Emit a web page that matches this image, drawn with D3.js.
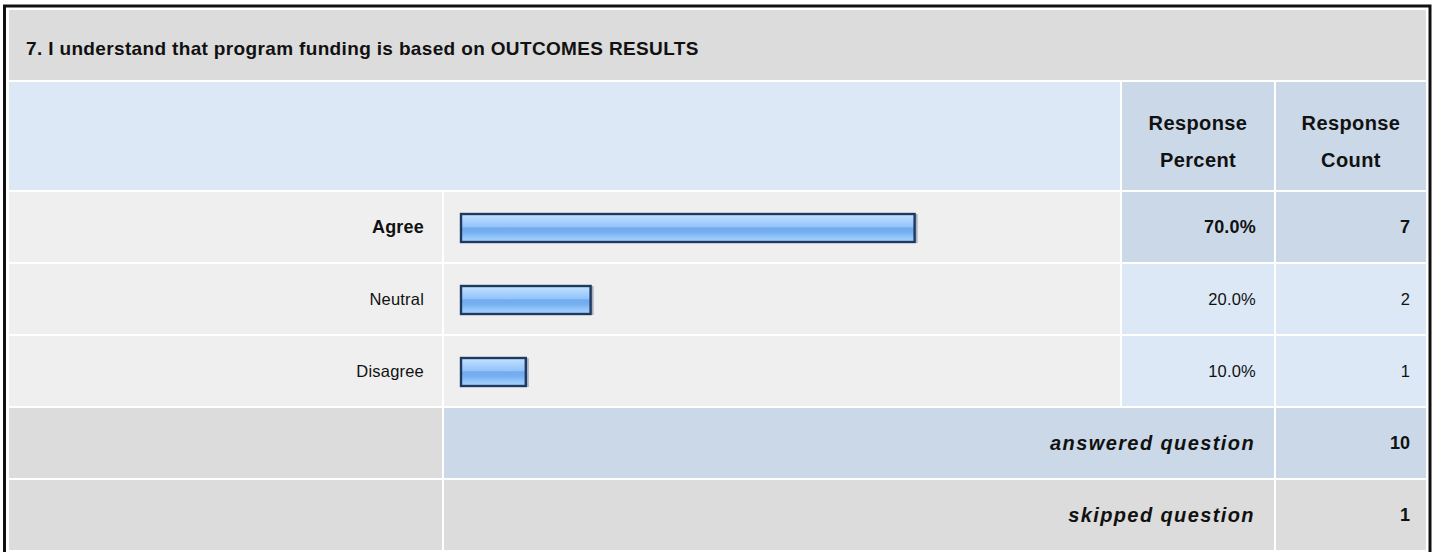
<!DOCTYPE html>
<html>
<head>
<meta charset="utf-8">
<script src="https://cdn.jsdelivr.net/npm/d3@7"></script>
<style>
  body { margin: 0; background: #fff; }
  svg { display: block; font-family: "Liberation Sans", Arial, sans-serif; }
</style>
</head>
<body>
<script>
// question data
var title = '7. I understand that program funding is based on OUTCOMES RESULTS';
var answers = ['Agree', 'Neutral', 'Disagree'];
var percents = [0.70, 0.20, 0.10];
var counts = [7, 2, 1];
var headerLines = [['Response', 'Percent'], ['Response', 'Count']];
var summaryLabels = ['answered question', 'skipped question'];
var summaryValues = [10, 1];

var W = 1437, H = 552;

var svg = d3.select('body').append('svg')
    .attr('width', W)
    .attr('height', H);

var defs = svg.append('defs');
var grad = defs.append('linearGradient')
    .attr('id', 'barFill')
    .attr('x1', 0).attr('y1', 0).attr('x2', 0).attr('y2', 1);
[['0%', '#c4e3ff'], ['22%', '#abd4fe'], ['45%', '#93c4f9'], ['50%', '#70a9ee'],
 ['66%', '#78b1f1'], ['84%', '#95c7fa'], ['100%', '#a8d2fc']].forEach(function (s) {
  grad.append('stop').attr('offset', s[0]).attr('stop-color', s[1]);
});

// column edges
var cols = [[9, 442], [444, 1120], [1122, 1274], [1276, 1426]];
var rowTop = 192, rowH = 70, rowGap = 2;

function rowY(i) { return rowTop + i * (rowH + rowGap); }

var cellLayer = svg.append('g');
var markLayer = svg.append('g');

function cell(x0, x1, y0, y1, fill) {
  cellLayer.append('rect')
    .attr('x', x0).attr('y', y0)
    .attr('width', x1 - x0).attr('height', y1 - y0)
    .attr('fill', fill);
}

function label(x, y, txt, opts) {
  opts = opts || {};
  return markLayer.append('text')
      .attr('x', x).attr('y', y)
      .attr('dy', '0.35em')
      .attr('text-anchor', opts.anchor || 'end')
      .attr('font-size', opts.size || 17)
      .attr('font-weight', opts.bold ? 'bold' : 'normal')
      .attr('font-style', opts.italic ? 'italic' : 'normal')
      .attr('letter-spacing', opts.ls || 0)
      .attr('fill', '#111')
      .text(txt);
}

// title row
cell(9, 1426, 10, 80, '#dcdcdc');
label(26, 48, title, {anchor: 'start', size: 19, bold: true, ls: 0.35});

// header row
cell(cols[0][0], cols[1][1], 82, 190, '#dce8f5');
headerLines.forEach(function (lines, i) {
  var c = cols[i + 2];
  cell(c[0], c[1], 82, 190, '#cbd8e7');
  lines.forEach(function (t, j) {
    label((c[0] + c[1]) / 2, 123 + j * 37, t, {anchor: 'middle', size: 20, bold: true, ls: 0.4});
  });
});

// answer rows
var maxI = d3.maxIndex(percents);
var x = d3.scaleLinear().domain([0, 1]).range([0, 648]);
var barX = 461;

answers.forEach(function (d, i) {
  var y0 = rowY(i), y1 = y0 + rowH, yc = y0 + rowH / 2;
  var hi = i === maxI;
  cell(cols[0][0], cols[0][1], y0, y1, '#efefef');
  cell(cols[1][0], cols[1][1], y0, y1, '#efefef');
  cell(cols[2][0], cols[2][1], y0, y1, hi ? '#cbd8e7' : '#dce8f5');
  cell(cols[3][0], cols[3][1], y0, y1, hi ? '#cbd8e7' : '#dce8f5');

  label(424, yc, d, {bold: hi, size: hi ? 18 : 16.5, ls: 0.2});

  // bar shadow, then bar
  markLayer.append('rect')
      .attr('x', barX + 1)
      .attr('y', y0 + 22)
      .attr('width', x(percents[i]) + 2)
      .attr('height', 29)
      .attr('fill', '#a9b2bd');
  markLayer.append('rect')
      .attr('x', barX)
      .attr('y', y0 + 22)
      .attr('width', x(percents[i]))
      .attr('height', 28)
      .attr('fill', 'url(#barFill)')
      .attr('stroke', '#1f3a60')
      .attr('stroke-width', 2.4);

  label(1256, yc, d3.format('.1%')(percents[i]), {bold: hi, size: hi ? 18 : 16.5, ls: 0.2});
  label(1410, yc, counts[i], {bold: hi, size: hi ? 18 : 16.5});
});

// summary rows
summaryLabels.forEach(function (t, k) {
  var i = answers.length + k;
  var y0 = rowY(i), y1 = y0 + rowH, yc = y0 + rowH / 2;
  var mid = k === 0 ? '#cbd8e7' : '#dcdcdc';
  cell(cols[0][0], cols[0][1], y0, y1, '#dcdcdc');
  cell(cols[1][0], cols[2][1], y0, y1, mid);
  cell(cols[3][0], cols[3][1], y0, y1, mid);
  label(1255, yc, t, {bold: true, italic: true, size: 20, ls: 1.4});
  label(1410, yc, summaryValues[k], {bold: true, size: 18});
});

// outer frame
svg.append('rect')
    .attr('x', 4.5).attr('y', 6)
    .attr('width', 1425.5).attr('height', H + 10)
    .attr('fill', 'none')
    .attr('stroke', '#111')
    .attr('stroke-width', 3);
</script>
</body>
</html>
